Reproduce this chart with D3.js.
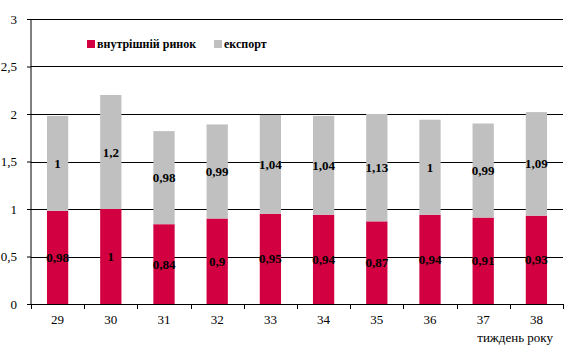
<!DOCTYPE html>
<html>
<head>
<meta charset="utf-8">
<script src="https://cdn.jsdelivr.net/npm/d3@7"></script>
<style>
  body { margin: 0; background: #fff; }
  svg text { font-family: "Liberation Serif", "Times New Roman", serif; }
</style>
</head>
<body>
<div id="chart"></div>
<script>
// Weeks of the year
const weeks = ['29', '30', '31', '32', '33', '34', '35', '36', '37', '38'];
// Domestic market values
const domestic = [0.98, 1, 0.84, 0.9, 0.95, 0.94, 0.87, 0.94, 0.91, 0.93];
// Export values
const exportVals = [1, 1.2, 0.98, 0.99, 1.04, 1.04, 1.13, 1, 0.99, 1.09];
const yTicks = [0, 0.5, 1, 1.5, 2, 2.5, 3];
const seriesNames = ['внутрішній ринок', 'експорт'];
const colors = ['#d20041', '#c0c0c0'];

const FONT = '"Liberation Serif", "Times New Roman", serif';
const width = 578, height = 354;
const margin = { top: 19, right: 15, bottom: 50, left: 31 };
const plotWidth = width - margin.left - margin.right;
const plotHeight = height - margin.top - margin.bottom;

const svg = d3.select('#chart').append('svg')
    .attr('width', width)
    .attr('height', height);

const g = svg.append('g')
    .attr('transform', `translate(${margin.left},${margin.top})`);

const x = d3.scaleBand()
    .domain(weeks)
    .range([0, plotWidth])
    .paddingInner(0.6)
    .paddingOuter(0.3);

const y = d3.scaleLinear()
    .domain([0, 3])
    .range([plotHeight, 0]);

// Gridlines
g.selectAll('.grid')
    .data(yTicks.filter(d => d > 0))
    .enter().append('line')
    .attr('x1', 0)
    .attr('x2', plotWidth)
    .attr('y1', d => Math.round(y(d)) + 0.5)
    .attr('y2', d => Math.round(y(d)) + 0.5)
    .style('stroke', '#000')
    .style('stroke-width', 1);

// Stack the data
const rows = weeks.map((w, i) => ({ week: w, d: domestic[i], e: exportVals[i] }));
const stack = d3.stack().keys(['d', 'e'])(rows);

const layers = g.selectAll('.layer')
    .data(stack)
    .enter().append('g')
    .style('fill', (d, i) => colors[i]);

layers.selectAll('rect')
    .data(d => d)
    .enter().append('rect')
    .attr('x', d => x(d.data.week))
    .attr('width', x.bandwidth())
    .attr('y', d => y(d[1]))
    .attr('height', d => y(d[0]) - y(d[1]));

// Value labels
layers.selectAll('text')
    .data(d => d.map(v => ({ v, key: d.key })))
    .enter().append('text')
    .attr('x', d => x(d.v.data.week) + x.bandwidth() / 2)
    .attr('y', d => y((d.v[0] + d.v[1]) / 2))
    .attr('dy', '0.35em')
    .attr('text-anchor', 'middle')
    .style('fill', '#000')
    .style('font-family', FONT)
    .style('font-size', '13px')
    .style('font-weight', 'bold')
    .text(d => String(d.v.data[d.key]).replace('.', ','));

// Y axis
const yAxis = g.append('g')
    .call(d3.axisLeft(y)
        .tickValues(yTicks)
        .tickSize(4)
        .tickPadding(10)
        .tickFormat(d => String(d).replace('.', ',')));
yAxis.attr('font-family', null);
yAxis.select('.domain').attr('d', `M0,0V${plotHeight}`);

// X axis with ticks between categories
const xAxis = g.append('g')
    .attr('transform', `translate(0,${plotHeight})`);
xAxis.append('line')
    .attr('x1', 0).attr('x2', plotWidth)
    .attr('y1', 0.5).attr('y2', 0.5)
    .style('stroke', '#000');
const step = plotWidth / weeks.length;
xAxis.selectAll('.tick')
    .data(d3.range(weeks.length + 1))
    .enter().append('line')
    .attr('x1', i => Math.round(i * step) + 0.5)
    .attr('x2', i => Math.round(i * step) + 0.5)
    .attr('y1', 0)
    .attr('y2', 5)
    .style('stroke', '#000');
xAxis.selectAll('.lbl')
    .data(weeks)
    .enter().append('text')
    .attr('x', d => x(d) + x.bandwidth() / 2)
    .attr('y', 20)
    .attr('text-anchor', 'middle')
    .style('font-family', FONT)
    .style('font-size', '13px')
    .text(d => d);

g.selectAll('.tick text').style('font-size', '13px').style('font-family', FONT);
g.selectAll('.tick line').style('stroke', '#000');
g.selectAll('.domain').style('stroke', '#000');

// Axis title
svg.append('text')
    .attr('x', 553)
    .attr('y', 342)
    .attr('text-anchor', 'end')
    .style('font-family', FONT)
    .style('font-size', '13px')
    .text('тиждень року');

// Legend
const legendX = [87, 214];
const legend = svg.selectAll('.legend')
    .data(seriesNames)
    .enter().append('g')
    .attr('transform', (d, i) => `translate(${legendX[i]},40)`);
legend.append('rect')
    .attr('width', 8).attr('height', 8)
    .style('fill', (d, i) => colors[i]);
legend.append('text')
    .attr('x', 10)
    .attr('y', 4)
    .attr('dy', '0.35em')
    .style('font-family', FONT)
    .style('font-size', '12px')
    .style('font-weight', 'bold')
    .text(d => d);
</script>
</body>
</html>
